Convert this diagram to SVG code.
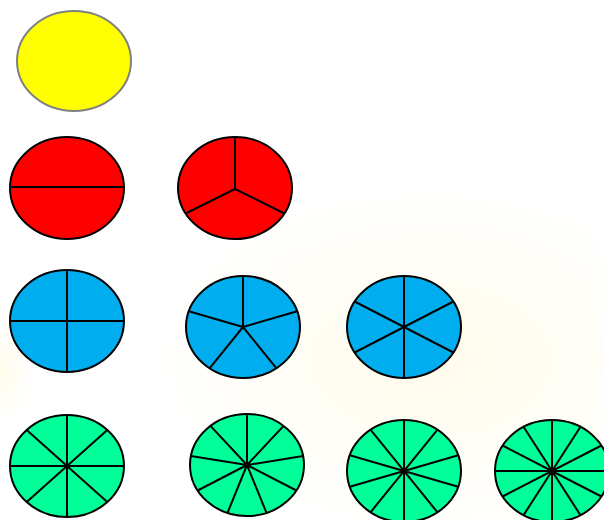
<svg xmlns="http://www.w3.org/2000/svg" width="604" height="520" viewBox="0 0 604 520">
<style>
.pie{stroke:#000;stroke-width:2}
.sp{stroke:#000;stroke-width:2;fill:none}
.y{fill:#ffff00;stroke:#808080;stroke-width:2}
.r{fill:#ff0000}
.b{fill:#00aeef}
.g{fill:#00ff99}
</style>
<defs>
<radialGradient id="glow" cx="0.5" cy="0.5" r="0.5">
<stop offset="0" stop-color="#fffbe6" stop-opacity="0.8"/>
<stop offset="0.6" stop-color="#fffcee" stop-opacity="0.4"/>
<stop offset="1" stop-color="#ffffff" stop-opacity="0"/>
</radialGradient>
</defs>
<rect width="604" height="520" fill="#ffffff"/>
<ellipse cx="430" cy="360" rx="320" ry="200" fill="url(#glow)"/>
<ellipse cx="0" cy="370" rx="40" ry="60" fill="url(#glow)"/>
<g id="whole"><ellipse class="y" cx="74" cy="61" rx="57" ry="50"/></g>
<g id="halves"><ellipse class="pie r" cx="67" cy="188" rx="57" ry="51"/><path class="sp" d="M10 187H124"/></g>
<g id="thirds"><ellipse class="pie r" cx="235" cy="188" rx="57" ry="51"/><path class="sp" d="M235 137V189M235 189L185.6 213.5M235 189L284.4 213.5"/></g>
<g id="quarters"><ellipse class="pie b" cx="67" cy="321" rx="57" ry="51"/><path class="sp" d="M67 270V372M10 321H124"/></g>
<g id="fifths"><ellipse class="pie b" cx="243" cy="327" rx="57" ry="51"/><path class="sp" d="M243 327V276M243 327L297.2 311.2M243 327L188.8 311.2M243 327L209.5 368.3M243 327L276.5 368.3"/></g>
<g id="sixths"><ellipse class="pie b" cx="404" cy="327" rx="57" ry="51"/><path class="sp" d="M404 276V378M453.4 301.5L354.6 352.5M354.6 301.5L453.4 352.5"/></g>
<g id="eighths"><ellipse class="pie g" cx="67" cy="466" rx="57" ry="51"/><path class="sp" d="M67 415V517M10 466H124M107.3 429.9L26.7 502.1M26.7 429.9L107.3 502.1"/></g>
<g id="ninths"><ellipse class="pie g" cx="247" cy="465" rx="57" ry="51"/><path class="sp" d="M247 465V414M247 465L283.6 425.9M247 465L303.1 456.1M247 465L296.4 490.5M247 465L266.5 512.9M247 465L227.5 512.9M247 465L197.6 490.5M247 465L190.9 456.1M247 465L210.4 425.9"/></g>
<g id="tenths"><ellipse class="pie g" cx="404" cy="471" rx="57" ry="51"/><path class="sp" d="M404 420V522M437.5 429.7L370.5 512.3M458.2 455.2L349.8 486.8M458.2 486.8L349.8 455.2M370.5 429.7L437.5 512.3"/></g>
<g id="twelfths"><ellipse class="pie g" cx="552" cy="471" rx="57" ry="51"/><path class="sp" d="M495 471H609M601.4 445.5L502.6 496.5M580.5 426.8L523.5 515.2M552 420V522M523.5 426.8L580.5 515.2M502.6 445.5L601.4 496.5"/></g>
</svg>
